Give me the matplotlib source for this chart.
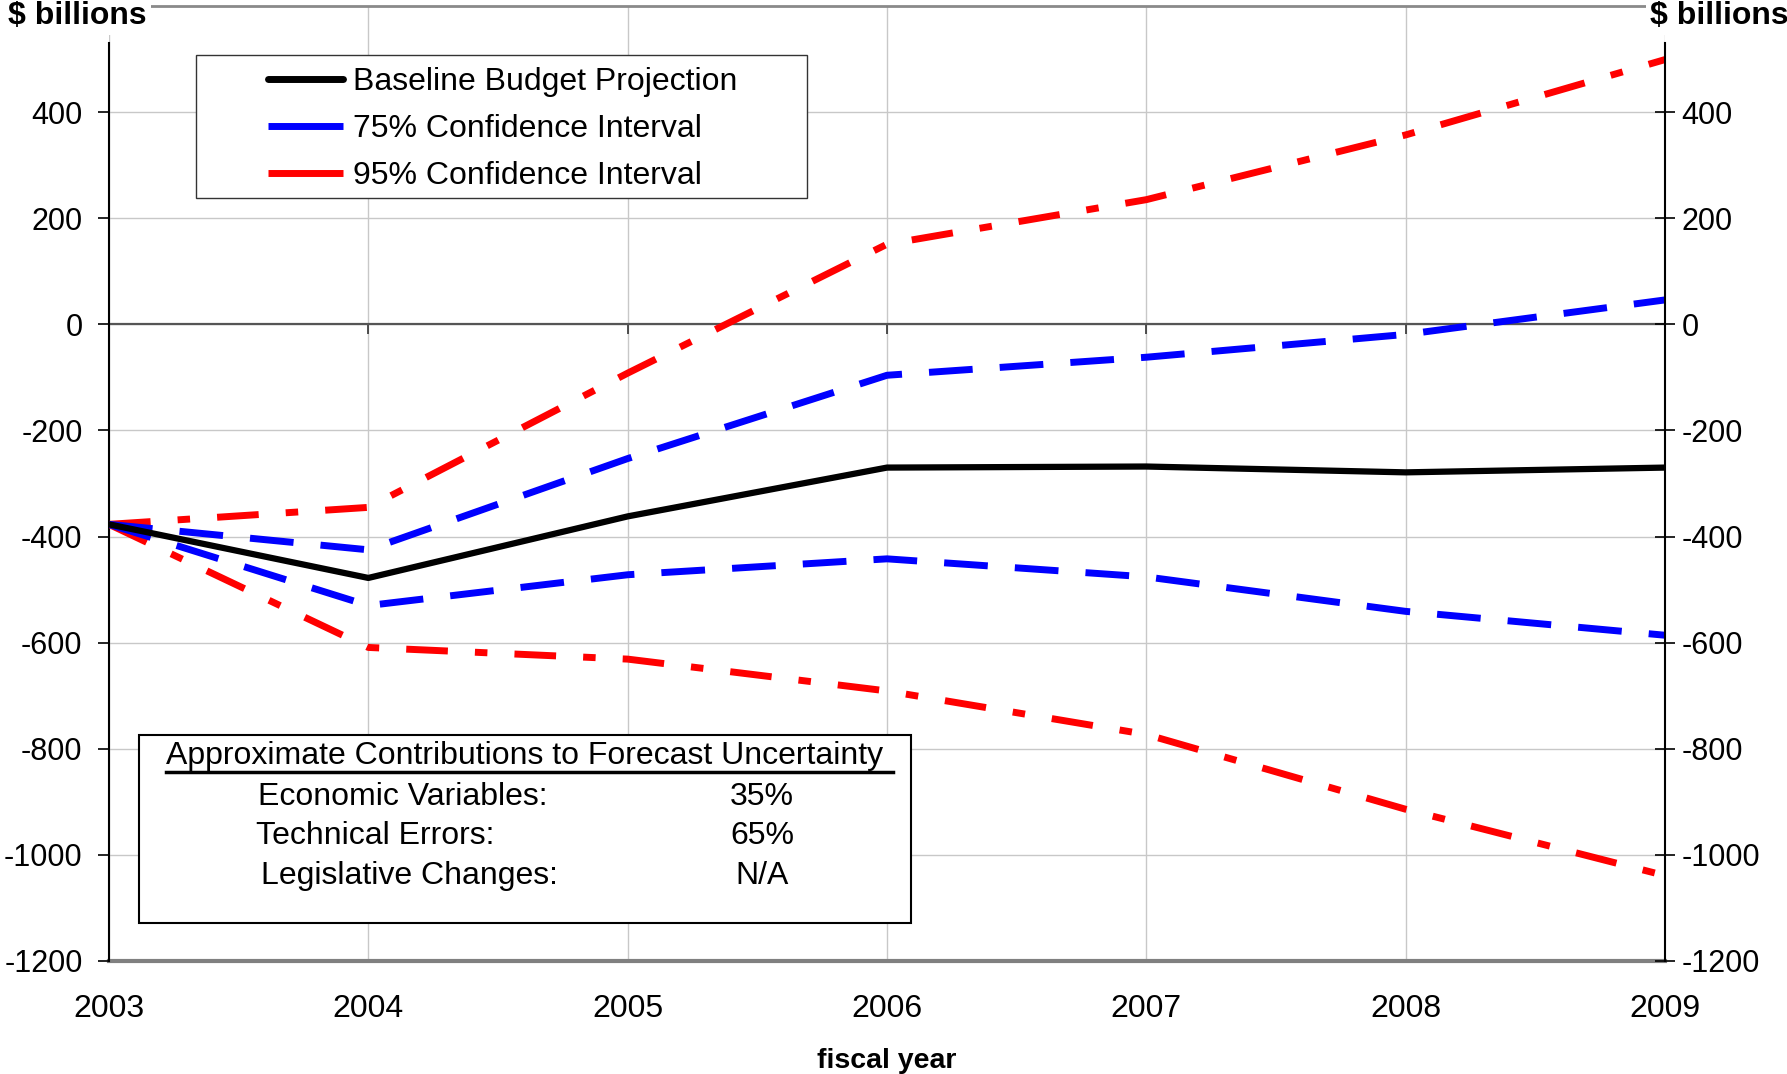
import numpy as np
import matplotlib.pyplot as plt
from matplotlib.patches import Rectangle
from matplotlib.lines import Line2D

plt.rcParams['font.family'] = ['Liberation Sans', 'DejaVu Sans']

years = [2003, 2004, 2005, 2006, 2007, 2008, 2009]
baseline = [-377, -478, -362, -270, -268, -279, -270]
ci75_upper = [-377, -425, -253, -96, -62, -19, 46]
ci75_lower = [-377, -530, -472, -442, -476, -541, -586]
ci95_upper = [-377, -345, -92, 151, 235, 357, 499]
ci95_lower = [-377, -609, -631, -691, -773, -914, -1039]

yticks = list(range(-1200, 401, 200))

contrib_title = "Approximate Contributions to Forecast Uncertainty"
contrib_labels = ["Economic Variables:", "Technical Errors:", "Legislative Changes:"]
contrib_values = ["35%", "65%", "N/A"]

W, H = 1787, 1074
YMIN, YMAX = -1200, 600
fig = plt.figure(figsize=(W / 100, H / 100), dpi=100)
ax = fig.add_axes([109 / W, 1 - 961 / H, (1665 - 109) / W, (961 - 6) / H])

ax.set_xlim(2003, 2009)
ax.set_ylim(YMIN, YMAX)

# grid
for y in yticks:
    ax.axhline(y, color='#c8c8c8', lw=1, zorder=0)
for x in years:
    ax.axvline(x, color='#c8c8c8', lw=1, zorder=0)
ax.axhline(0, color='#555555', lw=1.6, zorder=1)
ax.axhline(YMAX, color='#8a8a8a', lw=2, zorder=1, clip_on=False)
ax.axhline(YMIN, color='#808080', lw=3, zorder=1, clip_on=False)

# series
ax.plot(years, ci95_upper, color='red', lw=5, dashes=(6, 3.9, 1.8, 3.9),
        dash_capstyle='butt', zorder=3)
ax.plot(years, ci95_lower, color='red', lw=5, dashes=(6, 3.9, 1.8, 3.9),
        dash_capstyle='butt', zorder=3)
ax.plot(years, ci75_upper, color='blue', lw=5, dashes=(6.3, 3.9),
        dash_capstyle='butt', zorder=4)
ax.plot(years, ci75_lower, color='blue', lw=5, dashes=(6.3, 3.9),
        dash_capstyle='butt', zorder=4)
ax.plot(years, baseline, color='black', lw=4.5, zorder=5)

# spines / ticks
for s in ['top', 'bottom', 'right']:
    ax.spines[s].set_visible(False)
ax.spines['left'].set_bounds(YMIN, 530)
ax.spines['left'].set_linewidth(1.5)

ax.set_yticks(yticks)
ax.set_yticklabels([str(v) for v in yticks])
ax.tick_params(axis='y', direction='out', length=8, width=1.2, labelsize=22, pad=11)
ax.set_xticks(years)
ax.set_xticklabels([str(y) for y in years])
ax.tick_params(axis='x', length=0, labelsize=23, pad=24)
ax.set_xlabel('fiscal year', fontsize=20.5, fontweight='bold', labelpad=17)

# ticks on the zero line (pointing down)
zero_frac = (0 - YMIN) / (YMAX - YMIN)
sec = ax.secondary_xaxis(zero_frac)
sec.set_xticks(years)
sec.set_xticklabels([])
sec.tick_params(axis='x', direction='in', length=7, width=1.2, color='#333333',
                labeltop=False, labelbottom=False)
for s in sec.spines.values():
    s.set_visible(False)

ax2 = ax.twinx()
ax2.set_ylim(YMIN, YMAX)
ax2.set_yticks(yticks)
ax2.set_yticklabels([str(v) for v in yticks])
ax2.tick_params(axis='y', direction='inout', length=14, width=1.2, labelsize=22, pad=5)
for s in ['top', 'bottom', 'left']:
    ax2.spines[s].set_visible(False)
ax2.spines['right'].set_bounds(YMIN, 530)
ax2.spines['right'].set_linewidth(1.5)

# axis titles
for tx in [8, 1650]:
    fig.text(tx / W, 1 - 16 / H, '$ billions', fontsize=23, fontweight='bold',
             ha='left', va='center', zorder=10,
             bbox=dict(facecolor='white', edgecolor='none', pad=3))

# legend
fig.patches.append(Rectangle((196 / W, 1 - 198 / H), (807 - 196) / W, (198 - 55) / H,
                             transform=fig.transFigure, facecolor='white',
                             edgecolor='#333333', lw=1, zorder=6))
handles = [Line2D([], [], color='black', lw=5, solid_capstyle='round'),
           Line2D([], [], color='blue', lw=5, solid_capstyle='butt'),
           Line2D([], [], color='red', lw=5, solid_capstyle='butt')]
leg = fig.legend(handles, ['Baseline Budget Projection', '75% Confidence Interval',
                           '95% Confidence Interval'],
                 loc='upper left', bbox_to_anchor=(268 / W, 1 - 67 / H),
                 frameon=False, fontsize=23, handlelength=2.35, handletextpad=0.3,
                 labelspacing=0.54, borderpad=0, borderaxespad=0)
leg.set_zorder(7)

# contributions box
fig.patches.append(Rectangle((139 / W, 1 - 923 / H), (911 - 139) / W, (923 - 735) / H,
                             transform=fig.transFigure, facecolor='white',
                             edgecolor='black', lw=1.5, zorder=6))
fig.text(525 / W, 1 - 756 / H, contrib_title, fontsize=23, ha='center', va='center', zorder=7)
fig.add_artist(Line2D([166 / W, 893 / W], [1 - 772 / H, 1 - 772 / H],
                      transform=fig.transFigure, color='black', lw=2.5, zorder=7))
label_x = [258, 256, 261]
row_y = [797, 836, 876]
for lab, val, lx, ry in zip(contrib_labels, contrib_values, label_x, row_y):
    fig.text(lx / W, 1 - ry / H, lab, fontsize=23, ha='left', va='center', zorder=7)
    fig.text(762 / W, 1 - ry / H, val, fontsize=23, ha='center', va='center', zorder=7)

fig.savefig('out.png', dpi=100)
